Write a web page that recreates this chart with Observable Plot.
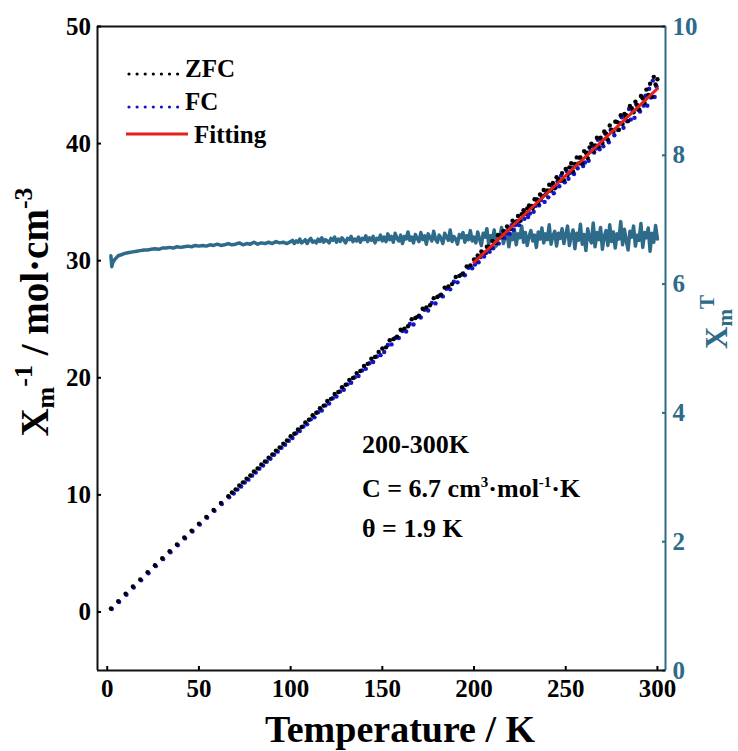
<!DOCTYPE html>
<html><head><meta charset="utf-8">
<script src="https://cdn.jsdelivr.net/npm/d3@7"></script>
<script src="https://cdn.jsdelivr.net/npm/@observablehq/plot@0.6"></script>
<style>
body{margin:0;background:#fff}
#wrap{position:relative;width:738px;height:751px}
#wrap svg{position:absolute;left:0;top:0}
</style>
</head><body><div id="wrap"></div>
<script>
// ---------- data ----------
const xTicks = [0, 50, 100, 150, 200, 250, 300];
const leftTicks = [0, 10, 20, 30, 40, 50];
const rightTicks = [0, 2, 4, 6, 8, 10];

// ZFC: 1/chi (left axis)
const zfcT = [2,6,10,14,18,22,26,30,34,38,42,46,50,54,58,62,66,
68,70,72,74,76,78,80,82,84,86,88,90,92,94,96,98,
100,102,104,106,108,110,112,114,116,118,120,122,124,126,128,130,132,134,136,138,140,142,144,146,148,
150,152,154,156,158,160,162,164,166,168,170,172,174,176,178,180,182,184,186,188,190,192,194,196,198,
200,201,202,203,204,205,206,207,208,209,210,211,212,213,214,215,216,217,218,219,
220,221,222,223,224,225,226,227,228,229,230,231,232,233,234,235,236,237,238,239,
240,241,242,243,244,245,246,247,248,249,250,251,252,253,254,255,256,257,258,259,
260,261,262,263,264,265,266,267,268,269,270,271,272,273,274,275,276,277,278,279,
280,281,282,283,284,285,286,287,288,289,290,291,292,293,294,295,296,297,298,299,300];
const zfcV = [0.29,0.91,1.55,2.17,2.78,3.40,3.99,4.59,5.18,5.77,6.36,6.95,7.54,8.12,8.71,9.30,9.89,
10.20,10.47,10.80,11.07,11.39,11.66,11.99,12.26,12.59,12.85,13.18,13.45,13.78,14.05,14.37,14.64,
15.00,15.22,15.58,15.80,16.19,16.42,16.80,17.01,17.40,17.62,18.01,18.20,18.61,18.79,19.20,19.41,19.82,19.98,20.40,20.58,21.00,21.19,21.62,21.77,22.21,
22.5,22.6,23.2,23.3,23.5,24.1,24.2,24.4,25.0,25.1,25.3,25.9,26.0,26.2,26.8,26.9,27.1,27.7,27.8,28.0,28.6,28.7,28.9,29.5,29.6,
30.10,30.00,30.45,30.35,30.79,30.69,30.69,31.19,31.19,31.09,
31.69,31.53,31.53,32.18,32.13,32.03,32.53,32.37,32.92,32.77,
32.72,33.42,33.27,33.27,33.81,33.41,33.96,34.31,34.01,34.46,
34.71,34.65,34.50,35.25,35.20,34.90,35.65,35.44,36.04,35.64,
35.99,36.49,36.04,36.64,36.18,37.13,36.98,36.83,37.48,36.88,
37.83,37.32,37.97,38.32,37.62,38.27,38.82,38.31,38.81,38.31,
39.36,39.21,38.76,39.66,40.00,39.35,39.85,40.50,39.75,40.50,
40.05,41.04,40.84,40.34,41.54,41.19,41.04,41.88,41.83,41.18,
42.43,41.68,42.53,42.43,41.92,43.22,43.02,42.67,43.57,43.27,
42.92,44.06,43.86,43.46,44.61,44.16,45.11,44.00,45.70,45.05,45.50];

// FC: 1/chi (left axis)
const fcT = [2.5,6.5,10.5,14.5,18.5,22.5,26.5,30.5,34.5,38.5,42.5,46.5,50.5,54.5,58.5,62.5,66.5,
69,71,73,75,77,79,81,83,85,87,89,91,93,95,97,99,
101,103,105,107,109,111,113,115,117,119,121,123,125,127,129,131,133,135,137,139,141,143,145,147,149,
151,153,155,157,159,161,163,165,167,169,171,173,175,177,179,181,183,185,187,189,191,193,195,197,199,
200.5,201.5,202.5,203.5,204.5,205.5,206.5,207.5,208.5,209.5,210.5,211.5,212.5,213.5,214.5,215.5,216.5,217.5,218.5,219.5,
220.5,221.5,222.5,223.5,224.5,225.5,226.5,227.5,228.5,229.5,230.5,231.5,232.5,233.5,234.5,235.5,236.5,237.5,238.5,239.5,
240.5,241.5,242.5,243.5,244.5,245.5,246.5,247.5,248.5,249.5,250.5,251.5,252.5,253.5,254.5,255.5,256.5,257.5,258.5,259.5,
260.5,261.5,262.5,263.5,264.5,265.5,266.5,267.5,268.5,269.5,270.5,271.5,272.5,273.5,274.5,275.5,276.5,277.5,278.5,279.5,
280.5,281.5,282.5,283.5,284.5,285.5,286.5,287.5,288.5,289.5,290.5,291.5,292.5,293.5,294.5,295.5,296.5,297.5,298.5,299.5];
const fcV = [0.25,0.85,1.47,2.08,2.70,3.31,3.91,4.51,5.10,5.69,6.28,6.87,7.46,8.04,8.63,9.21,9.80,
10.12,10.45,10.71,11.05,11.30,11.64,11.90,12.24,12.50,12.83,13.09,13.43,13.69,14.03,14.28,14.62,
14.85,15.26,15.45,15.84,16.02,16.45,16.62,17.05,17.20,17.64,17.80,18.25,18.40,18.83,18.98,19.44,19.58,20.04,20.15,20.63,20.76,21.24,21.35,21.82,21.93,
22.20,22.80,22.85,23.40,23.40,24.00,23.95,24.60,24.55,25.20,25.15,25.80,25.75,26.40,26.35,27.00,26.95,27.60,27.55,28.20,28.15,28.80,28.75,29.40,29.35,
29.67,30.12,29.87,30.32,30.61,30.36,30.66,31.11,30.76,31.16,
31.06,31.56,31.51,31.46,32.15,32.00,31.95,32.50,32.35,32.30,
33.04,32.64,33.04,33.39,33.04,33.44,33.99,33.58,34.03,33.73,
34.03,34.68,34.18,34.68,35.23,34.72,35.17,35.52,35.02,35.77,
35.41,35.96,36.41,35.76,36.26,36.76,36.36,37.26,36.80,36.70,
37.65,37.00,37.50,37.95,37.40,38.09,37.89,38.79,38.29,38.09,
38.38,39.23,38.53,39.33,39.78,39.23,39.58,40.33,39.52,40.32,
39.77,40.87,40.37,40.12,41.17,41.06,40.71,41.86,41.16,41.76,
42.25,41.35,42.25,41.90,42.95,42.05,42.75,42.20,43.34,42.89,
42.74,43.99,43.24,44.09,43.24,44.68,43.93,45.38,43.98,44.87];

// Fitting (200-300 K)
const fitT = [200, 300];
const fitV = [29.85, 44.7];

// chi*T (right axis)
const chiT_T = [2,2.5,3,4,6,8,10,12,14,16,18,20,
22,24,26,28,30,32,34,36,38,40,42,44,46,48,50,
52,54,56,58,60,62,64,66,68,70,72,74,76,78,80,82,84,86,88,90,92,94,96,98,100,
101,102,103,104,105,106,107,108,109,110,111,112,113,114,115,116,117,118,119,120,
121,122,123,124,125,126,127,128,129,130,131,132,133,134,135,136,137,138,139,140,
141,142,143,144,145,146,147,148,149,150,151,152,153,154,155,156,157,158,159,160,
161,162,163,164,165,166,167,168,169,170,171,172,173,174,175,176,177,178,179,180,
181,182,183,184,185,186,187,188,189,190,191,192,193,194,195,196,197,198,199,200,
201,202,203,204,205,206,207,208,209,210,211,212,213,214,215,216,217,218,219,220,
221,222,223,224,225,226,227,228,229,230,231,232,233,234,235,236,237,238,239,240,
241,242,243,244,245,246,247,248,249,250,251,252,253,254,255,256,257,258,259,260,
261,262,263,264,265,266,267,268,269,270,271,272,273,274,275,276,277,278,279,280,
281,282,283,284,285,286,287,288,289,290,291,292,293,294,295,296,297,298,299,300];
const chiT_V = [6.44,6.27,6.33,6.38,6.44,6.46,6.48,6.49,6.50,6.51,6.52,6.53,
6.53,6.54,6.55,6.54,6.56,6.56,6.57,6.56,6.58,6.57,6.58,6.59,6.58,6.60,6.59,
6.60,6.59,6.61,6.60,6.62,6.60,6.61,6.63,6.61,6.62,6.64,6.61,6.63,6.62,6.65,6.62,6.64,6.63,6.65,6.63,6.66,6.64,6.65,6.63,6.66,
6.68,6.63,6.67,6.65,6.70,6.64,6.66,6.69,6.63,6.68,
6.71,6.65,6.67,6.64,6.70,6.66,6.72,6.65,6.69,6.67,
6.64,6.71,6.68,6.73,6.65,6.70,6.66,6.72,6.68,6.64,
6.71,6.69,6.74,6.66,6.70,6.67,6.73,6.65,6.71,6.69,
6.75,6.66,6.72,6.68,6.74,6.64,6.71,6.69,6.76,6.67,
6.73,6.66,6.78,6.69,6.74,6.65,6.79,6.71,6.67,6.76,
6.63,6.74,6.70,6.81,6.68,6.73,6.64,6.77,6.71,6.66,
6.80,6.69,6.75,6.62,6.78,6.72,6.67,6.82,6.70,6.65,
6.76,6.71,6.63,6.79,6.73,6.68,6.84,6.66,6.74,6.70,
6.62,6.77,6.72,6.80,6.65,6.75,6.69,6.83,6.67,6.73,
6.64,6.81,6.70,6.60,6.79,6.73,6.86,6.62,6.75,6.68,
6.84,6.59,6.77,6.71,6.88,6.63,6.74,6.80,6.58,6.76,
6.69,6.85,6.61,6.78,6.72,6.90,6.65,6.80,6.60,6.74,
6.83,6.67,6.76,6.57,6.81,6.70,6.87,6.64,6.78,6.69,
6.92,6.62,6.75,6.82,6.59,6.79,6.71,6.86,6.63,6.77,
6.90,6.60,6.75,6.84,6.55,6.79,6.68,6.93,6.62,6.77,
6.52,6.86,6.71,6.64,6.95,6.58,6.80,6.69,6.88,6.54,
6.74,6.83,6.60,6.92,6.66,6.81,6.56,6.78,6.70,6.97,
6.61,6.85,6.67,6.53,6.82,6.73,6.90,6.59,6.76,6.68,
6.94,6.57,6.80,6.72,6.87,6.51,6.79,6.65,6.91,6.70];

// ---------- layout / style ----------
const xDomain = [-5.3, 304.4];
const leftDomain = [-5, 50];
const rightDomain = [0, 10];
const teal = "#2e6a89";
const font = "'Liberation Serif', 'Times New Roman', serif";

const zfc = zfcT.map((t, i) => ({t, v: zfcV[i]}));
const fc = fcT.map((t, i) => ({t, v: fcV[i]}));
const fit = fitT.map((t, i) => ({t, v: fitV[i]}));
const chiT = chiT_T.map((t, i) => ({t, v: chiT_V[i]}));

const common = {
  width: 738, height: 751,
  marginTop: 26, marginRight: 73, marginBottom: 81, marginLeft: 97,
  style: {background: "transparent", fontFamily: font, fontWeight: "bold", fontSize: "25px", overflow: "visible"}
};

const back = Plot.plot({
  ...common,
  x: {domain: xDomain, axis: null},
  y: {domain: rightDomain},
  marks: [
    Plot.line(chiT, {x: "t", y: "v", stroke: teal, strokeWidth: 3.5}),
    Plot.ruleX([xDomain[1]], {stroke: teal, strokeWidth: 2}),
    Plot.axisY({anchor: "right", ticks: rightTicks, tickSize: 4, dx: -4, tickPadding: 7,
      stroke: teal, fill: teal, strokeWidth: 2, fontSize: 25, label: null})
  ]
});

const front = Plot.plot({
  ...common,
  x: {domain: xDomain},
  y: {domain: leftDomain},
  marks: [
    Plot.dot(fc, {x: "t", y: "v", r: 2.2, fill: "#1414cc", stroke: null}),
    Plot.dot(zfc, {x: "t", y: "v", r: 2.2, fill: "#000", stroke: null}),
    Plot.line(fit, {x: "t", y: "v", stroke: "#e2221b", strokeWidth: 3}),
    Plot.ruleX([xDomain[0]], {stroke: "#111", strokeWidth: 2}),
    Plot.ruleY([leftDomain[0]], {stroke: "#111", strokeWidth: 2}),
    Plot.ruleY([leftDomain[1]], {stroke: "#111", strokeWidth: 2}),
    Plot.axisY({ticks: leftTicks, tickSize: 4, dx: 4, tickPadding: 6.5, strokeWidth: 2,
      fill: "#000", fontSize: 25, label: null}),
    Plot.axisX({ticks: xTicks, tickSize: 4, dy: -4, tickPadding: 9, strokeWidth: 2,
      fill: "#000", fontSize: 25, label: null})
  ]
});

const wrap = document.getElementById("wrap");
wrap.appendChild(back);
wrap.appendChild(front);

const svgB = d3.select(back);
const svg = d3.select(front);
svgB.selectAll("text").style("font-weight", "bold").style("font-family", font);
svg.selectAll("text").style("font-weight", "bold").style("font-family", font);

function txt(sel, attrs) {
  const t = sel.append("text").style("font-family", font).style("font-weight", "bold").attr("text-anchor", "start");
  for (const k in attrs) t.attr(k, attrs[k]);
  return t;
}

// Left title
const lt = txt(svg, {transform: "translate(48,312) rotate(-90)", "text-anchor": "middle", "font-size": 39, fill: "#000"});
lt.append("tspan").text("X");
lt.append("tspan").attr("font-size", 26).attr("dy", 6).text("m");
lt.append("tspan").attr("font-size", 26).attr("dy", -22).text("-1");
lt.append("tspan").attr("dy", 16).text(" / mol·cm");
lt.append("tspan").attr("font-size", 26).attr("dy", -16).text("-3");

// Bottom title
txt(svg, {x: 400, y: 742, "text-anchor": "middle", "font-size": 38, fill: "#000"}).text("Temperature / K");

// Right title
const rt = txt(svgB, {transform: "translate(727,322) rotate(-90)", "text-anchor": "middle", "font-size": 31, fill: teal});
rt.append("tspan").text("X");
rt.append("tspan").attr("font-size", 21).attr("dy", 5).text("m");
rt.append("tspan").attr("font-size", 21).attr("dy", -18).text("T");

// Legend
const lg = svg.append("g");
lg.append("line").attr("x1", 129).attr("x2", 178).attr("y1", 74).attr("y2", 74)
  .attr("stroke", "#000").attr("stroke-width", 3.2).attr("stroke-linecap", "round").attr("stroke-dasharray", "0 8.1");
txt(lg, {x: 185, y: 77, "font-size": 25, fill: "#000"}).text("ZFC");
lg.append("line").attr("x1", 129).attr("x2", 178).attr("y1", 107).attr("y2", 107)
  .attr("stroke", "#1414cc").attr("stroke-width", 3.2).attr("stroke-linecap", "round").attr("stroke-dasharray", "0 8.1");
txt(lg, {x: 185, y: 110, "font-size": 25, fill: "#000"}).text("FC");
lg.append("line").attr("x1", 126).attr("x2", 188).attr("y1", 134).attr("y2", 134)
  .attr("stroke", "#e2221b").attr("stroke-width", 3);
txt(lg, {x: 194, y: 143, "font-size": 25, fill: "#000"}).text("Fitting");

// Annotation
txt(svg, {x: 362, y: 453, "font-size": 26, fill: "#000"}).text("200-300K");
const an = txt(svg, {x: 362, y: 497, "font-size": 26, fill: "#000"});
an.append("tspan").text("C = 6.7 cm");
an.append("tspan").attr("font-size", 15).attr("dy", -10).text("3");
an.append("tspan").attr("dy", 10).text("·mol");
an.append("tspan").attr("font-size", 15).attr("dy", -10).text("-1");
an.append("tspan").attr("dy", 10).text("·K");
txt(svg, {x: 362, y: 537, "font-size": 26, fill: "#000"}).text("θ = 1.9 K");
</script>
</body></html>
